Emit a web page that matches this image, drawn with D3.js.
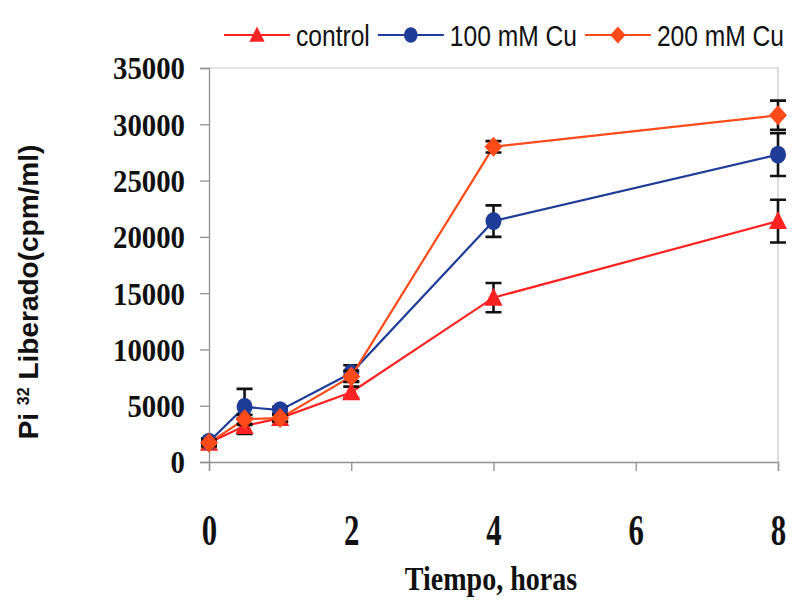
<!DOCTYPE html>
<html>
<head>
<meta charset="utf-8">
<script src="https://cdn.jsdelivr.net/npm/d3@7"></script>
<style>
  body { margin: 0; background: #fff; }
</style>
</head>
<body>
<div id="chart"></div>
<script>
// data
const hours = [0, 0.5, 1, 2, 4, 8];
const controlVals = [1700, 3200, 3900, 6200, 14600, 21400];
const controlErr  = [300, 700, 300, 500, 1300, 1900];
const cu100Vals = [1800, 4900, 4600, 7900, 21400, 27300];
const cu100Err  = [300, 1600, 300, 700, 1400, 1900];
const cu200Vals = [1700, 3800, 3900, 7600, 28000, 30800];
const cu200Err  = [300, 400, 300, 500, 500, 1300];
const xTicks = [0, 2, 4, 6, 8];
const yTicks = [0, 5000, 10000, 15000, 20000, 25000, 30000, 35000];

const series = [
  { name: "control",   vals: controlVals, err: controlErr, color: "#ff2222", marker: "triangle" },
  { name: "100 mM Cu", vals: cu100Vals,   err: cu100Err,   color: "#1f3c99", marker: "circle" },
  { name: "200 mM Cu", vals: cu200Vals,   err: cu200Err,   color: "#ff4a1a", marker: "diamond" }
];

const width = 801, height = 600;
const margin = { top: 68, right: 23, bottom: 138, left: 209 };

const svg = d3.select("#chart").append("svg")
  .attr("width", width)
  .attr("height", height);

const x = d3.scaleLinear().domain([0, 8]).range([margin.left, width - margin.right]);
const y = d3.scaleLinear().domain([0, 35000]).range([height - margin.bottom, margin.top]);

// plot frame (light)
svg.append("path")
  .attr("d", `M${x(0)},${y(35000)}H${x(8)}V${y(0)}`)
  .attr("fill", "none")
  .attr("stroke", "#c8c8c8")
  .attr("stroke-width", 1.2);

// axes
const yAxis = svg.append("g")
  .attr("transform", `translate(${x(0)},0)`)
  .call(d3.axisLeft(y).tickValues(yTicks).tickSize(9).tickFormat(d3.format("d")));
yAxis.select(".domain").attr("stroke", "#909090").attr("stroke-width", 1.3);
yAxis.selectAll(".tick line").attr("stroke", "#909090").attr("stroke-width", 1.3);
yAxis.selectAll("text")
  .attr("x", -24 / 0.9)
  .attr("dy", "0.34em")
  .attr("transform", "scale(0.9,1)")
  .style("font-family", "'Liberation Serif', 'Times New Roman', serif")
  .style("font-weight", "bold")
  .style("font-size", "32px")
  .attr("fill", "#111");

const xAxis = svg.append("g")
  .attr("transform", `translate(0,${y(0)})`)
  .call(d3.axisBottom(x).tickValues(xTicks).tickSize(9).tickFormat(d3.format("d")));
xAxis.select(".domain").attr("stroke", "#909090").attr("stroke-width", 1.3);
xAxis.selectAll(".tick line").attr("stroke", "#909090").attr("stroke-width", 1.3);
xAxis.selectAll("text")
  .attr("y", 83)
  .attr("dy", 0)
  .attr("transform", "scale(0.7,1)")
  .style("font-family", "'Liberation Serif', 'Times New Roman', serif")
  .style("font-weight", "bold")
  .style("font-size", "44px")
  .attr("fill", "#111");

// axis titles
svg.append("text")
  .attr("transform", `translate(491,590) scale(0.85,1)`)
  .attr("text-anchor", "middle")
  .style("font-family", "'Liberation Serif', 'Times New Roman', serif")
  .style("font-weight", "bold")
  .style("font-size", "33px")
  .attr("fill", "#111")
  .text("Tiempo, horas");

const yTitle = svg.append("text")
  .attr("transform", `translate(38,292) rotate(-90)`)
  .attr("text-anchor", "middle")
  .style("font-family", "'Liberation Sans', Arial, sans-serif")
  .style("font-weight", "bold")
  .style("font-size", "28px")
  .attr("fill", "#111");
yTitle.append("tspan").text("Pi ");
yTitle.append("tspan").attr("dy", -9).style("font-size", "16px").text("32");
yTitle.append("tspan").attr("dy", 9).text(" Liberado(cpm/ml)");

// marker shapes
function drawMarker(g, type, cx, cy, color, s) {
  if (type === "circle") {
    g.append("ellipse").attr("cx", cx).attr("cy", cy)
      .attr("rx", 8 * s).attr("ry", 9 * s).attr("fill", color);
  } else if (type === "triangle") {
    const w = 9 * s, h = 10 * s;
    g.append("path")
      .attr("d", `M${cx},${cy - h}L${cx + w},${cy + h * 0.8}L${cx - w},${cy + h * 0.8}Z`)
      .attr("fill", color);
  } else {
    const r = 10 * s;
    g.append("path")
      .attr("d", `M${cx},${cy - r}L${cx + r * 0.9},${cy}L${cx},${cy + r}L${cx - r * 0.9},${cy}Z`)
      .attr("fill", color);
  }
}

const line = d3.line()
  .x(d => x(d.h))
  .y(d => y(d.v));

series.forEach(s => {
  const pts = hours.map((h, i) => ({ h: h, v: s.vals[i], e: s.err[i] }));
  const g = svg.append("g");

  g.append("path")
    .datum(pts)
    .attr("fill", "none")
    .attr("stroke", s.color)
    .attr("stroke-width", 2.2)
    .attr("d", line);

  // error bars
  pts.forEach(p => {
    const cx = x(p.h);
    const y1 = y(p.v + p.e), y2 = y(p.v - p.e);
    g.append("path")
      .attr("d", `M${cx},${y1}V${y2}M${cx - 8},${y1}H${cx + 8}M${cx - 8},${y2}H${cx + 8}`)
      .attr("fill", "none")
      .attr("stroke", "#111")
      .attr("stroke-width", 2.6);
  });

  pts.forEach(p => drawMarker(g, s.marker, x(p.h), y(p.v), s.color, 1));
});

// legend
const legend = svg.append("g").attr("transform", "translate(224,35)");
const legendScale = 0.82;
let lx = 0;
series.forEach(s => {
  legend.append("line")
    .attr("x1", lx).attr("x2", lx + 66)
    .attr("y1", 0).attr("y2", 0)
    .attr("stroke", s.color)
    .attr("stroke-width", 2.2);
  drawMarker(legend, s.marker, lx + 33, 0, s.color, 0.85);
  const t = legend.append("text")
    .attr("transform", `translate(${lx + 72},11) scale(${legendScale},1)`)
    .style("font-family", "'Liberation Sans', Arial, sans-serif")
    .style("font-size", "30px")
    .attr("fill", "#111")
    .text(s.name);
  lx += 72 + t.node().getComputedTextLength() * legendScale + 8;
});
</script>
</body>
</html>
